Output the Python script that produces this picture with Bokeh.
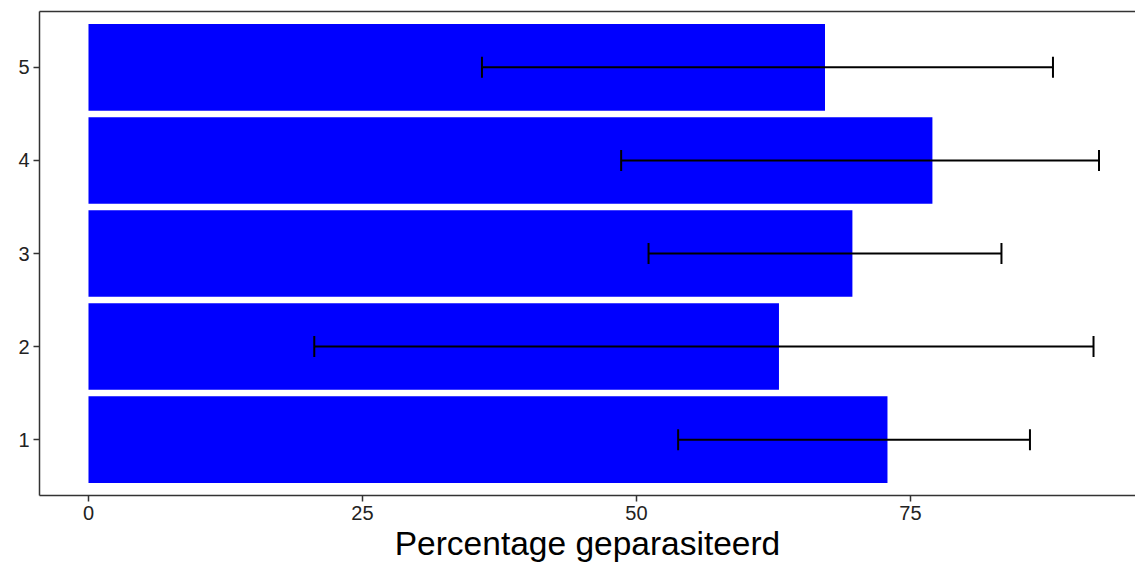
from bokeh.plotting import figure
from bokeh.models import ColumnDataSource, Range1d, Whisker, TeeHead, FixedTicker, LinearAxis
from bokeh.embed import file_html
from bokeh.resources import INLINE

# data
groups = [1, 2, 3, 4, 5]
percent = [72.9, 63.0, 69.7, 77.0, 67.2]
err_low = [53.8, 20.6, 51.1, 48.6, 35.9]
err_high = [85.9, 91.7, 83.3, 92.2, 88.0]
x_ticks = [0, 25, 50, 75]
x_label = "Percentage geparasiteerd"

src = ColumnDataSource(dict(y=groups, right=percent, lo=err_low, hi=err_high))

p = figure(width=1135, height=564, output_backend="svg", toolbar_location=None,
           x_range=Range1d(-4.47, 95.53), y_range=Range1d(0.4, 5.6),
           min_border_left=39, min_border_right=0, min_border_top=11, min_border_bottom=10)

p.hbar(y="y", left=0, right="right", height=0.93, source=src,
       fill_color="#0000FF", line_color=None)

wh = Whisker(base="y", lower="lo", upper="hi", dimension="width", source=src,
             line_color="black", line_width=2, level="annotation",
             upper_head=TeeHead(size=21, line_color="black", line_width=2),
             lower_head=TeeHead(size=21, line_color="black", line_width=2))
p.add_layout(wh)

p.xgrid.visible = False
p.ygrid.visible = False
p.outline_line_color = None
p.background_fill_color = "white"
p.border_fill_color = "white"

xa = p.below[0]
ya = p.left[0]
xa.ticker = FixedTicker(ticks=x_ticks)
ya.ticker = FixedTicker(ticks=groups)
xa.axis_label = x_label

for ax in (xa, ya):
    ax.axis_line_color = "#333333"
    ax.axis_line_width = 1.5
    ax.major_tick_line_color = "#333333"
    ax.major_tick_line_width = 1.5
    ax.major_tick_out = 6
    ax.major_tick_in = 0
    ax.minor_tick_line_color = None
    ax.major_label_text_font = "Liberation Sans"
    ax.major_label_text_font_size = "20px"
    ax.major_label_text_color = "#222222"
    ax.major_label_standoff = 4

xa.axis_label_text_font = "Liberation Sans"
xa.axis_label_text_font_size = "33.5px"
xa.axis_label_text_font_style = "normal"
xa.axis_label_text_color = "black"
xa.axis_label_standoff = 2

# top border line of the panel (its right side falls outside the view in the reference)
top = LinearAxis(ticker=FixedTicker(ticks=[]), axis_line_color="#333333", axis_line_width=1.5,
                 major_tick_out=0, major_tick_in=0, minor_tick_out=0, minor_tick_in=0,
                 major_label_standoff=0)
p.add_layout(top, "above")

open("out.html", "w").write(file_html(p, INLINE))
